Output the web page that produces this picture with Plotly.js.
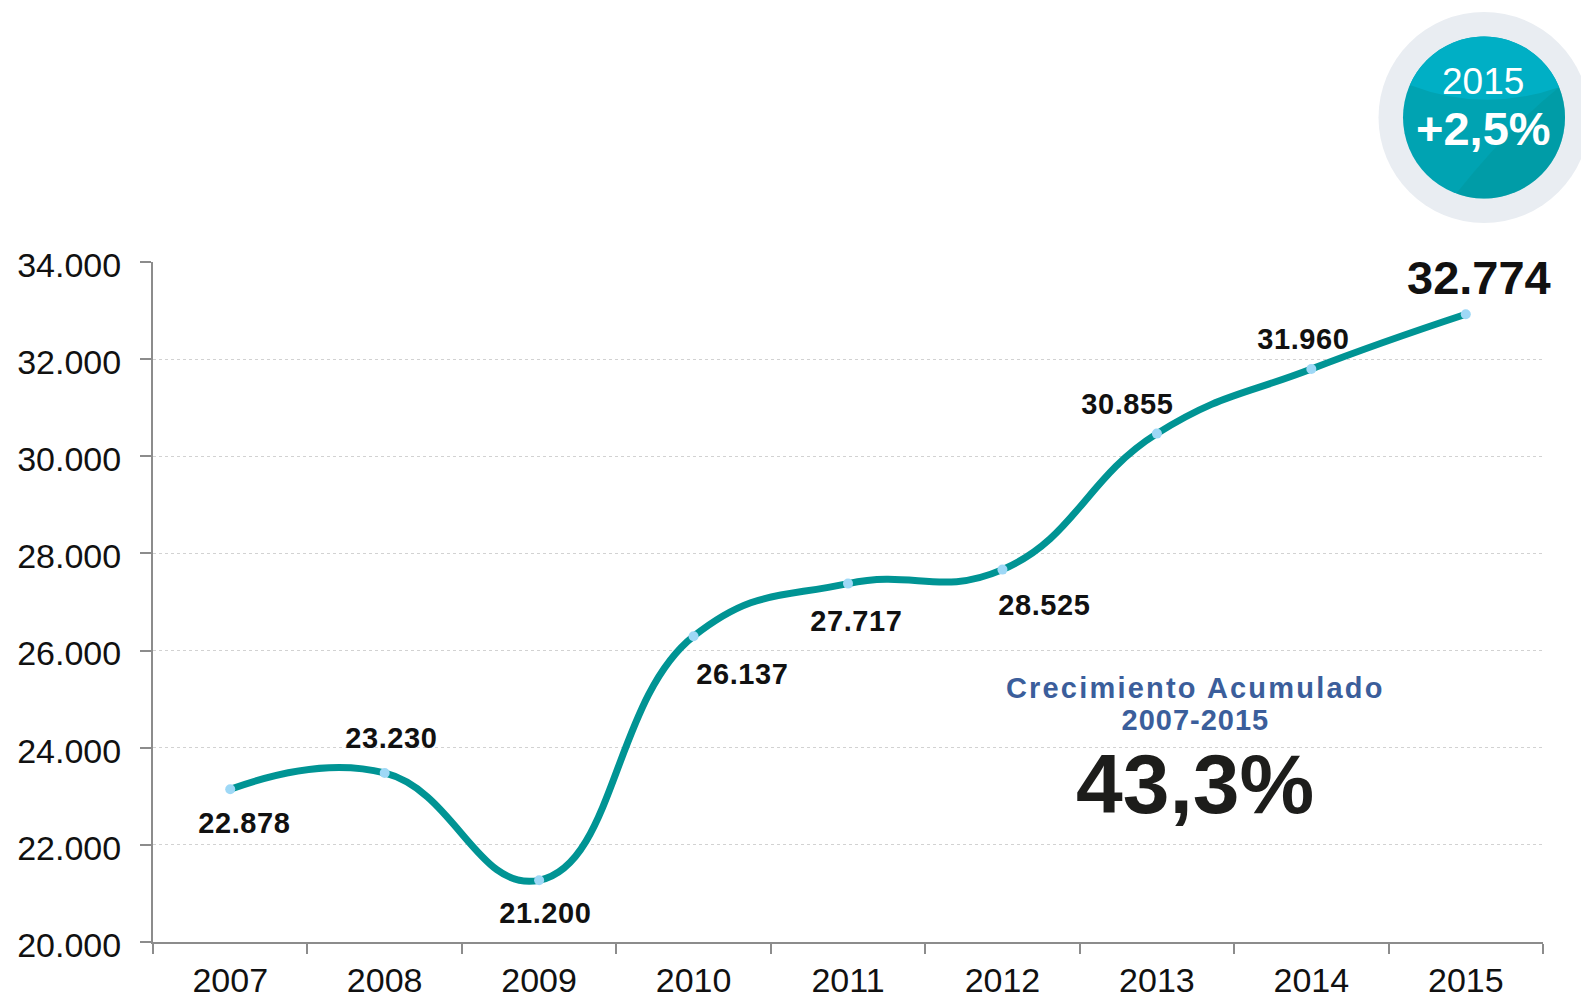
<!DOCTYPE html>
<html>
<head>
<meta charset="utf-8">
<script src="https://cdn.plot.ly/plotly-3.0.1.min.js"></script>
<style>
html,body{margin:0;padding:0;background:#fff;}
#chart{width:1581px;height:998px;}
g.annotation[data-index="0"] text, g.annotation[data-index="1"] text, g.annotation[data-index="2"] text,
g.annotation[data-index="3"] text, g.annotation[data-index="4"] text, g.annotation[data-index="5"] text,
g.annotation[data-index="6"] text, g.annotation[data-index="7"] text { letter-spacing: 0.6px; }
g.annotation[data-index="11"] text { letter-spacing: 2.2px; }
g.annotation[data-index="12"] text { letter-spacing: 1px; }
</style>
</head>
<body>
<div id="chart"></div>
<script>
// ---- data ----
const years = ['2007','2008','2009','2010','2011','2012','2013','2014','2015'];
const plottedValues = [23144, 23480, 21270, 26294, 27379, 27667, 30467, 31797, 32924];
const valueLabels = ['22.878','23.230','21.200','26.137','27.717','28.525','30.855','31.960','32.774'];
const yTickValues = [20000, 22000, 24000, 26000, 28000, 30000, 32000, 34000];
const yTickLabels = ['20.000','22.000','24.000','26.000','28.000','30.000','32.000','34.000'];
const badgeYear = '2015';
const badgeGrowth = '+2,5%';
const cumulativeTitle = 'Crecimiento Acumulado';
const cumulativePeriod = '2007-2015';
const cumulativeGrowth = '43,3%';

// ---- layout geometry ----
const W = 1581, H = 998;
const M = {l:153, r:38, t:262, b:56};
const plotW = W - M.l - M.r, plotH = H - M.t - M.b;
const px2x = px => (px - M.l) / plotW;
const py2y = py => (H - M.b - py) / plotH;

const FONT = '"Liberation Sans", Arial, sans-serif';

// label offsets (pixels) relative to each point
const labelOffsets = [
  [14,-34],[7,35],[6,-33],[49,-38],[8,-37],[42,-35],[-29,30],[-8,30],[13,37]
];

// data labels: category axis annotations use the category index
const annotations = years.map((yr, i) => ({
  x: i, y: plottedValues[i], xref:'x', yref:'y',
  text: valueLabels[i], showarrow:false,
  xshift: labelOffsets[i][0], yshift: labelOffsets[i][1],
  xanchor:'center', yanchor:'middle',
  font: {family: FONT, size: i === years.length - 1 ? 47 : 29, color:'#111111', weight: 700}
}));

// badge text
annotations.push({
  x: px2x(1483), y: py2y(81), xref:'paper', yref:'paper', showarrow:false,
  text: badgeYear, xanchor:'center', yanchor:'middle',
  font:{family: FONT, size:37, color:'#ffffff'}
});
annotations.push({
  x: px2x(1483), y: py2y(128), xref:'paper', yref:'paper', showarrow:false,
  text: badgeGrowth, xanchor:'center', yanchor:'middle',
  font:{family: FONT, size:47, color:'#ffffff', weight:700}
});
// cumulative growth block
annotations.push({
  x: px2x(1195), y: py2y(688), xref:'paper', yref:'paper', showarrow:false,
  text: cumulativeTitle, xanchor:'center', yanchor:'middle',
  font:{family: FONT, size:29, color:'#3B5E9B', weight:700}
});
annotations.push({
  x: px2x(1195), y: py2y(720), xref:'paper', yref:'paper', showarrow:false,
  text: cumulativePeriod, xanchor:'center', yanchor:'middle',
  font:{family: FONT, size:29, color:'#3B5E9B', weight:700}
});
annotations.push({
  x: px2x(1195), y: py2y(784), xref:'paper', yref:'paper', showarrow:false,
  text: cumulativeGrowth, xanchor:'center', yanchor:'middle',
  font:{family: FONT, size:84, color:'#1D1D1B', weight:700}
});

// badge highlight path (upper cap of inner circle), pixel offsets from centre, y up
function capPath(r){
  const aL = Math.atan2(32.5, -74), aR = Math.atan2(29.5, 73);
  let d = '';
  const n = 40;
  for (let k = 0; k <= n; k++) {
    const a = aL + (aR - aL) * k / n;
    const x = r * Math.cos(a), y = r * Math.sin(a);
    d += (k === 0 ? 'M' : 'L') + x.toFixed(2) + ',' + y.toFixed(2) + ' ';
  }
  const x0 = r*Math.cos(aL), y0 = r*Math.sin(aL);
  d += 'Q0,4 ' + x0.toFixed(2) + ',' + y0.toFixed(2) + ' Z';
  return d;
}
// darker right-hand shading of the lower badge
function rightShade(r){
  const a0 = Math.atan2(29.5, 73), a1 = -Math.PI/2 - 0.35;
  let d = '';
  const n = 40;
  for (let k = 0; k <= n; k++) {
    const a = a0 + (a1 - a0) * k / n;
    d += (k === 0 ? 'M' : 'L') + (r*Math.cos(a)).toFixed(2) + ',' + (r*Math.sin(a)).toFixed(2) + ' ';
  }
  d += 'Q25,-10 ' + (r*Math.cos(a0)).toFixed(2) + ',' + (r*Math.sin(a0)).toFixed(2) + ' Z';
  return d;
}

const cx = px2x(1484), cy = py2y(117.5);
const shapes = [
  {type:'circle', xref:'paper', yref:'paper', xsizemode:'pixel', ysizemode:'pixel',
   xanchor: cx, yanchor: cy, x0:-105.5, x1:105.5, y0:-105.5, y1:105.5,
   fillcolor:'#E9EDF2', line:{width:0}, layer:'below'},
  {type:'circle', xref:'paper', yref:'paper', xsizemode:'pixel', ysizemode:'pixel',
   xanchor: cx, yanchor: cy, x0:-81, x1:81, y0:-81, y1:81,
   fillcolor:'#00A3B2', line:{width:0}, layer:'below'},
  {type:'path', xref:'paper', yref:'paper', xsizemode:'pixel', ysizemode:'pixel',
   xanchor: cx, yanchor: cy, path: rightShade(81),
   fillcolor:'#00959A', opacity:0.45, line:{width:0}, layer:'below'},
  {type:'path', xref:'paper', yref:'paper', xsizemode:'pixel', ysizemode:'pixel',
   xanchor: cx, yanchor: cy, path: capPath(81),
   fillcolor:'#00AFC5', line:{width:0}, layer:'below'}
];

const trace = {
  x: years, y: plottedValues, type:'scatter', mode:'lines+markers',
  line:{shape:'spline', smoothing:1.3, color:'#009494', width:7},
  marker:{size:10, color:'#9ED8F6'},
  hoverinfo:'skip', cliponaxis:false
};

const layout = {
  width: W, height: H,
  margin: M,
  paper_bgcolor:'#ffffff', plot_bgcolor:'#ffffff',
  showlegend:false,
  font:{family: FONT, color:'#111111'},
  xaxis:{
    type:'category', showgrid:false, zeroline:false,
    showline:true, linecolor:'#8C8C8C', linewidth:2,
    ticks:'outside', tickson:'boundaries', ticklen:10, tickwidth:2, tickcolor:'#8C8C8C',
    tickfont:{family: FONT, size:34, color:'#111111'},
    ticklabelstandoff: 7,
    range:[-0.5, 8.5], fixedrange:true
  },
  yaxis:{
    range:[20000, 34000], zeroline:false,
    tickvals: yTickValues, ticktext: yTickLabels,
    showline:true, linecolor:'#8C8C8C', linewidth:2,
    ticks:'outside', ticklen:11, tickwidth:2, tickcolor:'#8C8C8C',
    showgrid:true, gridcolor:'#D2D2D2', gridwidth:1, griddash:'dot',
    tickfont:{family: FONT, size:34, color:'#111111'},
    ticklabelstandoff: 12, ticklabelshift: 3,
    fixedrange:true
  },
  annotations: annotations,
  shapes: shapes
};

Plotly.newPlot('chart', [trace], layout, {displayModeBar:false, staticPlot:true});
</script>
</body>
</html>
